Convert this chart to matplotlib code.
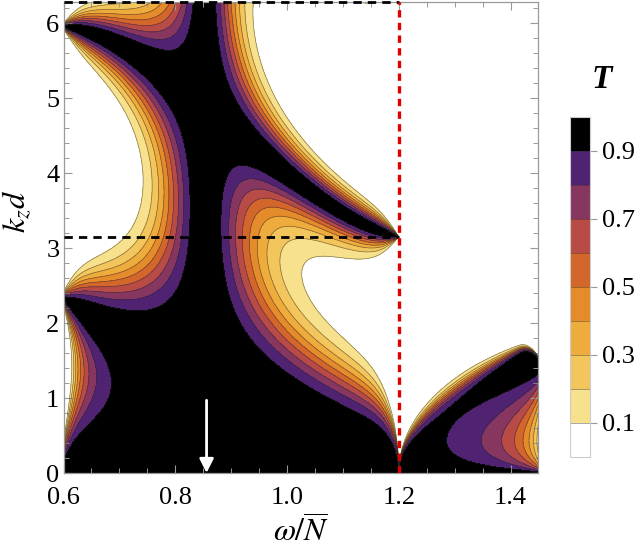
import numpy as np
import matplotlib.pyplot as plt
from matplotlib.ticker import MultipleLocator

plt.rcParams['mathtext.fontset'] = 'stix'
plt.rcParams['font.family'] = ['Liberation Serif', 'DejaVu Serif']

# transmission levels and fill colours (white -> black)
t_levels = [0.0, 0.1, 0.2, 0.3, 0.4, 0.5, 0.6, 0.7, 0.8, 0.9, 1.0]
t_colors = ['#ffffff', '#f7e18d', '#f2c65c', '#eeac3d', '#e48b2b',
            '#d3672b', '#b84b45', '#86365f', '#4f2371', '#000000']
cbar_ticks = [0.1, 0.3, 0.5, 0.7, 0.9]
cbar_labels = ['0.1', '0.3', '0.5', '0.7', '0.9']

x_ticks = [0.6, 0.8, 1.0, 1.2, 1.4]
x_labels = ['0.6', '0.8', '1.0', '1.2', '1.4']
y_ticks = [0, 1, 2, 3, 4, 5, 6]

# second ridge of full transmission (omega/N, kz d)
ridge_omega = [0.600, 0.713, 0.803, 0.844, 0.904, 1.130, 1.200]
ridge_kzd = [5.97, 5.60, 5.28, 4.97, 4.53, 3.37, 3.14]
# phase growth per unit kz d (spacing between the ridges)
slope_omega = [0.60, 0.65, 0.72, 0.85, 1.20]
slope_vals = [0.868, 0.825, 0.82, 0.86, 0.95]

omega_min, omega_max = 0.6, 1.45
omega_match = 0.853   # matched frequency (arrow)
omega_cut = 1.2       # red line
arrow_top = 0.97

# ---- field T(omega, kz d) ----
om = np.linspace(omega_min, omega_max, 1400)
kz = np.linspace(0, 2 * np.pi, 1100)
W, K = np.meshgrid(om, kz)

# propagating side (omega < cut)
yB = np.polyval(np.polyfit(ridge_omega, ridge_kzd, 3), W)
s = np.polyval(np.polyfit(slope_omega, slope_vals, 3), W)
phi = 2 * np.pi - s * yB
theta = phi + s * K
H = 6 + 0.01 / (W - 0.596) ** 2 + 0.01 / np.clip(omega_cut - W, 1e-4, None) ** 2
G = K ** 3 / (1 + (K / 4) ** 3)
X = H * (W - omega_match) ** 2 * G * np.sin(theta) ** 2
T_left = np.exp(-X)

# evanescent side (omega > cut)
dw = np.clip(W - omega_cut, 1e-6, None)
yc = 3.55 * np.sqrt(dw) - 195 * np.clip(W - 1.415, 0, None) ** 2
wd = 0.23 * np.sqrt(dw) * (1.46 - W) / 0.19 + 1e-3
band = 1 / (1 + np.exp(np.clip((K - yc) / wd, -50, 50)))
kw = 0.152 * (dw / (1.462 - W) / 0.78) ** 0.77
ph = np.pi * np.clip(K / 1.53, 0, None) ** 0.55
wedge = np.exp(-kw * np.sin(ph) ** 2)
T_right = band * wedge

T = np.where(W < omega_cut, T_left, T_right)

# ---- figure ----
fig = plt.figure(figsize=(6.39, 5.54), dpi=100)
ax = fig.add_axes([0.0994, 0.1462, 0.7433, 0.8502])

cf = ax.contourf(om, kz, T, levels=t_levels, colors=t_colors)
cl = ax.contour(om, kz, T, levels=t_levels[1:-1], colors=[(0.15, 0.15, 0.15, 0.55)],
                linewidths=0.5)

ax.plot([omega_min, omega_cut], [np.pi, np.pi], color='black', lw=2.0,
        dashes=(3, 2.2), zorder=5)
ax.plot([omega_min, omega_cut], [2 * np.pi, 2 * np.pi], color='black', lw=2.0,
        dashes=(3, 2.2), zorder=5, clip_on=False)
ax.plot([omega_cut, omega_cut], [0, 2 * np.pi], color='#e00000', lw=2.4,
        dashes=(2.2, 1.6), zorder=6)

ax.annotate('', xy=(omega_match + 0.003, 0.0), xytext=(omega_match + 0.003, arrow_top),
            arrowprops=dict(arrowstyle='-|>,head_length=0.6,head_width=0.3',
                            color='white', lw=2.0, shrinkA=0, shrinkB=0,
                            mutation_scale=14), zorder=7)

ax.set_xlim(omega_min, omega_max)
ax.set_ylim(0, 2 * np.pi)
ax.set_xticks(x_ticks)
ax.set_xticklabels(x_labels)
ax.set_yticks(y_ticks)
ax.xaxis.set_minor_locator(MultipleLocator(0.05))
ax.yaxis.set_minor_locator(MultipleLocator(0.2))
ax.tick_params(which='both', direction='in', top=True, right=True, color='#999999',
               labelsize=19)
ax.tick_params(which='major', length=6, width=0.8)
ax.tick_params(which='minor', length=3.5, width=0.7)
ax.tick_params(axis='x', pad=10)
ax.tick_params(axis='y', pad=3)
for sp in ax.spines.values():
    sp.set_color('#999999')
    sp.set_linewidth(0.9)

ax.set_xlabel(r'$\omega/\overline{N}$', fontsize=23)
ax.xaxis.set_label_coords(0.5, -0.127)
ax.xaxis.label.set_va('center')
ax.set_ylabel(r'$k_z d$', fontsize=23)
ax.yaxis.set_label_coords(-0.098, 0.555)
ax.yaxis.label.set_va('center')

cax = fig.add_axes([0.892, 0.1756, 0.0313, 0.6137])
cb = fig.colorbar(cf, cax=cax, ticks=cbar_ticks)
cb.set_ticklabels(cbar_labels)
cb.add_lines(cl)
cb.outline.set_edgecolor('#cccccc')
cb.outline.set_linewidth(0.8)
cax.tick_params(labelsize=19, color='#999999', length=5, width=0.8, pad=4)
fig.text(0.9416, 0.8556, 'T', fontsize=24, fontstyle='italic', fontweight='bold',
         ha='center', va='center')

fig.savefig('out.png', dpi=100)
